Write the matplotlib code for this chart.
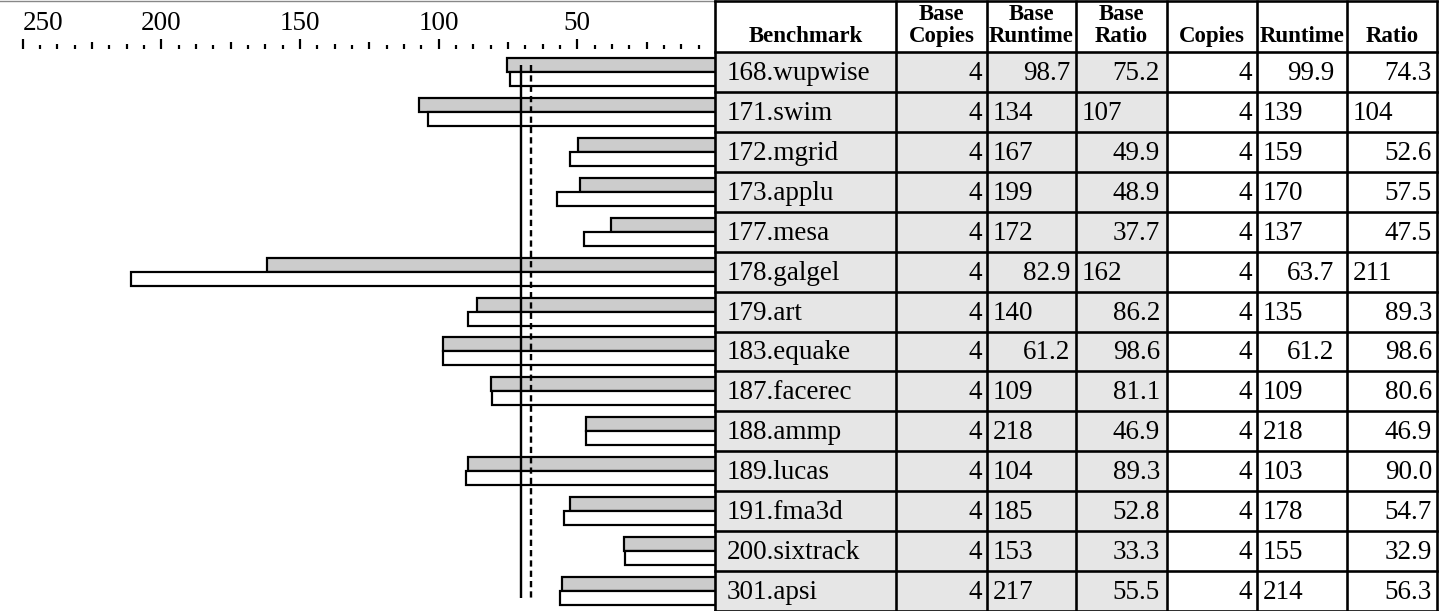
import numpy as np
import matplotlib
matplotlib.use("Agg")
import matplotlib.pyplot as plt
from matplotlib.patches import Rectangle

# ---------------- data ----------------
benchmarks = ["168.wupwise", "171.swim", "172.mgrid", "173.applu", "177.mesa",
              "178.galgel", "179.art", "183.equake", "187.facerec", "188.ammp",
              "189.lucas", "191.fma3d", "200.sixtrack", "301.apsi"]
base_copies = [4, 4, 4, 4, 4, 4, 4, 4, 4, 4, 4, 4, 4, 4]
base_runtime = [98.7, 134, 167, 199, 172, 82.9, 140, 61.2, 109, 218, 104, 185, 153, 217]
base_ratio = [75.2, 107, 49.9, 48.9, 37.7, 162, 86.2, 98.6, 81.1, 46.9, 89.3, 52.8, 33.3, 55.5]
peak_copies = [4, 4, 4, 4, 4, 4, 4, 4, 4, 4, 4, 4, 4, 4]
peak_runtime = [99.9, 139, 159, 170, 137, 63.7, 135, 61.2, 109, 218, 103, 178, 155, 214]
peak_ratio = [74.3, 104, 52.6, 57.5, 47.5, 211, 89.3, 98.6, 80.6, 46.9, 90.0, 54.7, 32.9, 56.3]
headers = ["Benchmark", "Base\nCopies", "Base\nRuntime", "Base\nRatio",
           "Copies", "Runtime", "Ratio"]

plt.rcParams['font.family'] = ['Liberation Serif', 'DejaVu Serif']

W, H = 1445, 611
PT = 0.72  # points per pixel at 100 dpi
fig = plt.figure(figsize=(W / 100, H / 100), dpi=100)

n = len(benchmarks)
rows = np.arange(n)

# ---------------- bar panel ----------------
bar_right_px = 716
header_px = 52
px_per_unit = 2.773
ax = fig.add_axes([0, 0, bar_right_px / W, (H - header_px) / H])
ax.set_xlim(bar_right_px / px_per_unit, 0)
ax.set_ylim(n - 0.5, -0.5)

bh = 0.35
ax.barh(rows - bh / 2, base_ratio, height=bh, color="#cccccc",
        edgecolor="black", linewidth=2.2 * PT, zorder=2)
ax.barh(rows + bh / 2, peak_ratio, height=bh, color="white",
        edgecolor="black", linewidth=2.2 * PT, zorder=2)

gm_base = float(np.exp(np.mean(np.log(base_ratio))))
gm_peak = float(np.exp(np.mean(np.log(peak_ratio))))
ax.vlines(gm_peak, -bh / 2, n - 1 + bh / 2, color="black", linewidth=2.4 * PT, zorder=3)
ax.vlines(gm_base, -bh / 2, n - 1 + bh / 2, color="black", linewidth=2.4 * PT,
          linestyles=(0, (2.6, 1.7)), zorder=3)

for s in ["left", "right", "bottom", "top"]:
    ax.spines[s].set_visible(False)
ax.spines["top"].set_position(("outward", 3 * PT))
ax.set_yticks([])
ax.xaxis.tick_top()
ticks = np.arange(6.25, 250.01, 6.25)
ax.set_xticks(ticks)
labels = [str(int(t)) if (t % 50 == 0) else "" for t in ticks]
ax.set_xticklabels(labels, fontsize=19.5)
ax.tick_params(axis="x", which="major", direction="out", length=10 * PT,
               width=2.2 * PT, pad=3 * PT, top=True, bottom=False)
fig.canvas.draw()
for t, v in zip(ax.xaxis.get_major_ticks(), ticks):
    if v % 50 == 0:
        L = 10.5
    elif v % 25 == 0:
        L = 7.5
    elif v % 12.5 == 0:
        L = 5
    else:
        L = 3.8
    t.tick2line.set_markersize(L * PT)
    if v == 250:
        t.label2.set_horizontalalignment("left")

# ---------------- table overlay ----------------
tx = fig.add_axes([0, 0, 1, 1])
tx.set_xlim(0, W)
tx.set_ylim(H, 0)
tx.axis("off")

edges = [715, 896, 987, 1076, 1167, 1257, 1347, 1437]
row_h = (H - header_px) / n
row_top = [header_px + i * row_h for i in range(n + 1)]

# gray top rule over the bar panel
tx.plot([0, edges[0]], [0.5, 0.5], color="#888888", linewidth=1.0)

# shaded base columns
tx.add_patch(Rectangle((edges[0], header_px), edges[4] - edges[0], H - header_px,
                       facecolor="#e6e6e6", edgecolor="none", zorder=0))

lw = 2.6 * PT
for x in edges:
    tx.plot([x, x], [0, H], color="black", linewidth=lw, solid_capstyle="butt")
tx.plot([edges[0], edges[-1]], [1, 1], color="black", linewidth=lw)
for y in row_top:
    tx.plot([edges[0], edges[-1]], [y, y], color="black", linewidth=lw)

# header text
HFS = 16.5
for j, h in enumerate(headers):
    cx = (edges[j] + edges[j + 1]) / 2
    if "\n" in h:
        l1, l2 = h.split("\n")
        tx.text(cx, 20, l1, ha="center", va="baseline", fontsize=HFS, fontweight="bold")
        tx.text(cx, 42, l2, ha="center", va="baseline", fontsize=HFS, fontweight="bold")
    else:
        tx.text(cx, 42, h, ha="center", va="baseline", fontsize=HFS, fontweight="bold")

FS = 19.5
lpad = 6
rpads = {1: 5, 2: 6, 3: 7, 4: 5, 5: 13, 6: 5}


def put_count(col, yb, v):
    tx.text(edges[col + 1] - rpads[col], yb, str(v), ha="right", va="baseline", fontsize=FS)


def put_num(col, yb, v):
    if v >= 100:
        tx.text(edges[col] + lpad, yb, f"{v:.0f}", ha="left", va="baseline", fontsize=FS)
    else:
        tx.text(edges[col + 1] - rpads[col], yb, f"{v:.1f}", ha="right", va="baseline",
                fontsize=FS)


for i in range(n):
    yb = row_top[i] + row_h / 2 + 8
    tx.text(edges[0] + 12, yb, benchmarks[i], ha="left", va="baseline", fontsize=FS)
    put_count(1, yb, base_copies[i])
    put_num(2, yb, base_runtime[i])
    put_num(3, yb, base_ratio[i])
    put_count(4, yb, peak_copies[i])
    put_num(5, yb, peak_runtime[i])
    put_num(6, yb, peak_ratio[i])

fig.savefig("out.png", dpi=100)
